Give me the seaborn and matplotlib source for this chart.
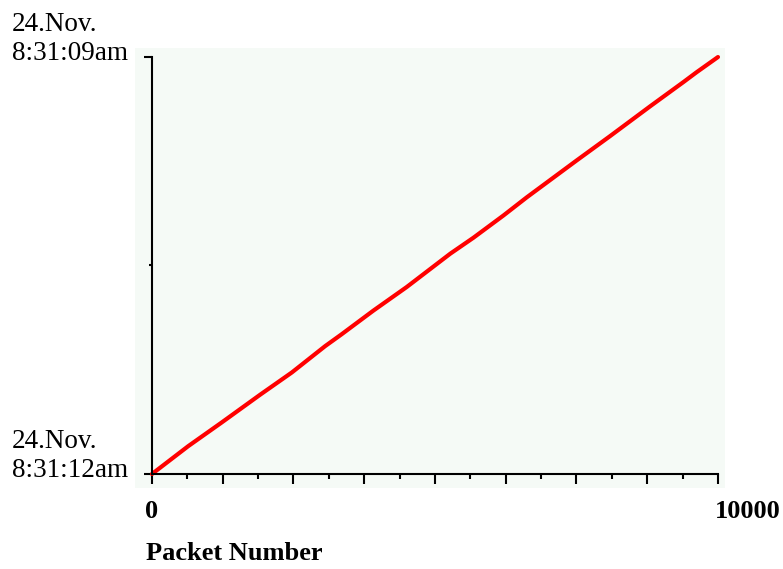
import matplotlib
matplotlib.use("Agg")
import matplotlib.pyplot as plt
import matplotlib.transforms as mtransforms
from matplotlib.ticker import MultipleLocator, FixedLocator
import seaborn as sns
import pandas as pd

# Data (packet number vs. arrival time in seconds after 8:31:00)
packets = [0, 640, 1230, 1910, 2470, 3060, 3350, 3910, 4500, 5270, 5680,
           6210, 6620, 7500, 8090, 8800, 9390, 9620, 10000]
seconds = [12.0, 11.80, 11.63, 11.43, 11.27, 11.08, 10.995, 10.825, 10.655, 10.415,
           10.30, 10.14, 10.01, 9.745, 9.57, 9.355, 9.18, 9.11, 9.0]
ytick_vals = [9.0, 12.0]
ytick_labels = ["24.Nov.\n8:31:09am", "24.Nov.\n8:31:12am"]
xtick_vals = [0, 10000]
xtick_labels = ["0", "10000"]
x_label = "Packet Number"

df = pd.DataFrame({"packet": packets, "sec": seconds})

sns.set_style("white")
plt.rcParams["font.family"] = ["Liberation Serif", "DejaVu Serif"]
plt.rcParams["text.color"] = "black"

fig = plt.figure(figsize=(7.83, 5.69), dpi=100)
ax = fig.add_axes([135 / 783, (569 - 488) / 569, 590 / 783, 440 / 569])
ax.set_facecolor("#f5faf6")

sns.lineplot(data=df, x="packet", y="sec", ax=ax, color="#ff0000",
             linewidth=3.0, estimator=None, sort=False,
             solid_capstyle="round", solid_joinstyle="round")

ax.set_xlim(-300, 10124)
ax.set_ylim(12.101, 8.935)

for s in ["top", "right"]:
    ax.spines[s].set_visible(False)
ax.spines["left"].set_position(("data", 0))
ax.spines["bottom"].set_position(("data", 12.0))
ax.spines["left"].set_bounds(9.0, 12.0)
ax.spines["bottom"].set_bounds(0, 10000)
for s in ["left", "bottom"]:
    ax.spines[s].set_color("black")
    ax.spines[s].set_linewidth(1.5)

ax.xaxis.set_major_locator(MultipleLocator(1250))
ax.xaxis.set_minor_locator(MultipleLocator(625))
ax.yaxis.set_major_locator(FixedLocator(ytick_vals))
ax.yaxis.set_minor_locator(FixedLocator([10.5]))
ax.tick_params(axis="x", which="both", bottom=True, top=False)
ax.tick_params(axis="y", which="both", left=True, right=False)
ax.tick_params(axis="x", which="major", direction="out", length=7, width=1.5,
               color="black", labelbottom=False)
ax.tick_params(axis="x", which="minor", direction="out", length=3.5, width=1.5,
               color="black")
ax.tick_params(axis="y", which="major", direction="out", length=6, width=1.5,
               color="black", labelleft=False)
ax.tick_params(axis="y", which="minor", direction="out", length=2.5, width=1.5,
               color="black")
ax.set_xlabel("")
ax.set_ylabel("")

# y labels: left-aligned at figure x=12px, last baseline just below tick
trans_y = mtransforms.blended_transform_factory(fig.transFigure, ax.transData)
for v, lab in zip(ytick_vals, ytick_labels):
    off = mtransforms.ScaledTranslation(0, -3 / 100, fig.dpi_scale_trans)
    ax.text(12 / 783, v, lab, transform=trans_y + off, ha="left", va="baseline",
            fontsize=19.5, color="black", linespacing=1.2)

# x labels
trans_x = mtransforms.blended_transform_factory(ax.transData, fig.transFigure)
ax.text(xtick_vals[0], 1 - 512 / 569, xtick_labels[0], transform=trans_x,
        ha="center", va="center", fontsize=19, fontweight="bold", color="black")
ax.text(xtick_vals[1] - 50, 1 - 512 / 569, xtick_labels[1], transform=trans_x,
        ha="left", va="center", fontsize=19, fontweight="bold", color="black")
fig.text(146 / 783, 1 - 553 / 569, x_label, ha="left", va="center",
         fontsize=19, fontweight="bold", color="black")

fig.savefig("out.png", dpi=100)
